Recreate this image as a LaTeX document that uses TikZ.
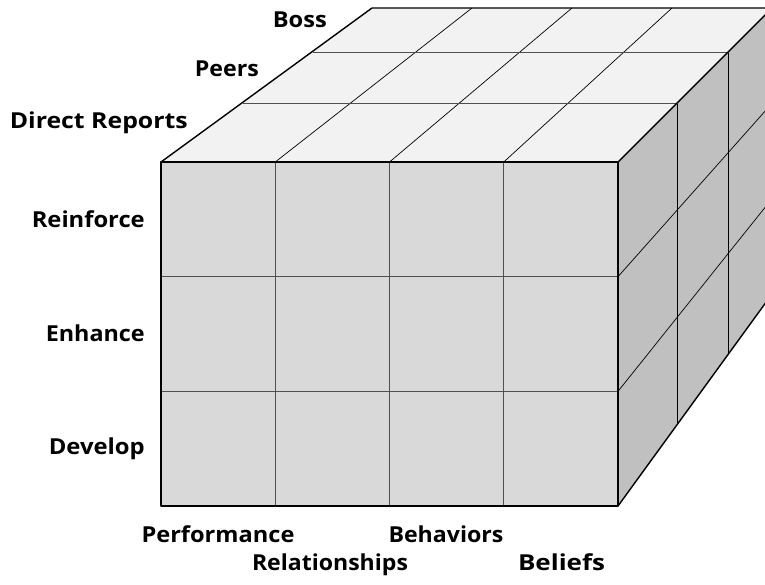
\documentclass[tikz,border=0pt]{standalone}
\usepackage{fontspec}
\setmainfont{Open Sans}
\usepackage{graphicx}
\usetikzlibrary{calc}
\definecolor{topc}{HTML}{F2F2F2}
\definecolor{frontc}{HTML}{D9D9D9}
\definecolor{sidec}{HTML}{C0C0C0}
\definecolor{gridg}{HTML}{505050}
\newsavebox\lblbox
\newlength\lblw
\newcommand\fitto[2]{\sbox\lblbox{#2}\setlength\lblw{\wd\lblbox}\pgfmathsetmacro\lblratio{#1/\lblw}\scalebox{\lblratio}[1]{\usebox\lblbox}}
\begin{document}
\begin{tikzpicture}[x=1pt,y=-1pt,
  lbl/.style={inner sep=0pt,font=\fontsize{22}{26}\selectfont\bfseries},
  edge/.style={line width=1.4pt,line join=round,line cap=round},
  grayline/.style={draw=gridg,line width=0.9pt},
  thinline/.style={draw=black,line width=0.7pt}]
\useasboundingbox (0,0) rectangle (765,584);
\begin{scope}
\clip (0,0) rectangle (765,584);
\coordinate (a0) at (161,162);
\coordinate (b0) at (618,162);
\coordinate (c0) at (618,506);
\coordinate (d0) at (161,506);
\coordinate (a1) at (243,103.5);
\coordinate (b1) at (677,103.5);
\coordinate (c1) at (677,423);
\coordinate (a2) at (313,52.5);
\coordinate (b2) at (728,52.5);
\coordinate (c2) at (728,354);
\coordinate (a3) at (372,8);
\coordinate (b3) at (772,8);
\coordinate (c3) at (772,294);
% fills
\fill[topc] (a0) -- (a3) -- (b3) -- (b0) -- cycle;
\fill[sidec] (b0) -- (b3) -- (c3) -- (c0) -- cycle;
\fill[frontc] (a0) rectangle (c0);
% front grid
\foreach \i in {1,2,3} {\draw[grayline] ($(a0)!\i/4!(b0)$) -- ($(d0)!\i/4!(c0)$);}
\foreach \j in {1,2} {\draw[grayline] ($(a0)!\j/3!(d0)$) -- ($(b0)!\j/3!(c0)$);}
% top grid
\foreach \i in {1,2,3} {\draw[thinline] ($(a0)!\i/4!(b0)$) -- ($(a3)!\i/4!(b3)$);}
\draw[grayline] (a1) -- (b1);
\draw[grayline] (a2) -- (b2);
% side grid
\draw[thinline,line width=0.9pt] (b1) -- (c1);
\draw[thinline,line width=0.9pt] (b2) -- (c2);
\foreach \j in {1,2} {\draw[thinline] ($(b0)!\j/3!(c0)$) -- ($(b3)!\j/3!(c3)$);}
% outer edges
\draw[edge] (a0) rectangle (c0);
\draw[edge] (a0) -- (a3) -- (b3);
\draw[edge] (b0) -- (b3);
\draw[edge] (c0) -- (c3);
\end{scope}
% labels
\node[lbl,anchor=base east] (boss) at (327,27) {\fitto{54}{Boss}};
\node[lbl,anchor=base east] (peers) at (259,76) {\fitto{64}{Peers}};
\node[lbl,anchor=base east] (direct) at (188,128) {\fitto{178}{Direct Reports}};
\node[lbl,anchor=base east] (reinforce) at (145,227) {\fitto{113}{Reinforce}};
\node[lbl,anchor=base east] (enhance) at (145,341) {\fitto{99}{Enhance}};
\node[lbl,anchor=base east] (develop) at (145,454) {\fitto{96}{Develop}};
\node[lbl,anchor=base] (performance) at (218,542) {\fitto{153}{Performance}};
\node[lbl,anchor=base] (behaviors) at (446,542) {\fitto{115}{Behaviors}};
\node[lbl,anchor=base] (relationships) at (330,570) {\fitto{156}{Relationships}};
\node[lbl,anchor=base] (beliefs) at (561.5,570) {\fitto{87}{Beliefs}};
\end{tikzpicture}
\end{document}
